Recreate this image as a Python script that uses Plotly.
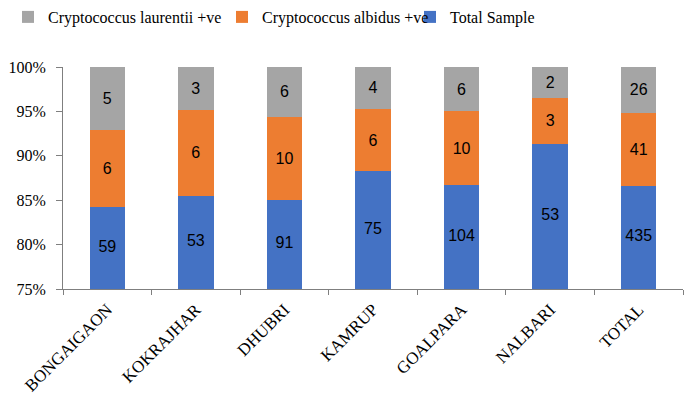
import plotly.graph_objects as go

districts = ["BONGAIGAON", "KOKRAJHAR", "DHUBRI", "KAMRUP", "GOALPARA", "NALBARI", "TOTAL"]
total_sample = [59, 53, 91, 75, 104, 53, 435]
albidus = [6, 6, 10, 6, 10, 3, 41]
laurentii = [5, 3, 6, 4, 6, 2, 26]

Y_MIN, Y_MAX = 75, 100
sums = [a + b + c for a, b, c in zip(total_sample, albidus, laurentii)]

def pct(vals):
    return [100 * v / s for v, s in zip(vals, sums)]

series = [
    ("Total Sample", total_sample, "#4472C4", "legend3"),
    ("Cryptococcus albidus +ve", albidus, "#ED7D31", "legend2"),
    ("Cryptococcus laurentii +ve", laurentii, "#A5A5A5", "legend"),
]

label_font = dict(family="Liberation Sans", size=16, color="black")

fig = go.Figure()
for name, vals, col, leg in series:
    is_base = name == "Total Sample"
    fig.add_trace(go.Bar(
        x=districts, y=pct(vals), name=name, marker_color=col, marker_line_width=0,
        text=None if is_base else vals,
        textposition="none" if is_base else "inside",
        insidetextanchor="middle", textfont=label_font,
        constraintext="none", hoverinfo="skip", showlegend=True, legend=leg,
    ))

# labels for the base segment, centred in its visible part
base_pct = pct(total_sample)
fig.add_trace(go.Scatter(
    x=districts, y=[(Y_MIN + p) / 2 for p in base_pct], mode="text",
    text=[str(v) for v in total_sample], textfont=label_font,
    showlegend=False, hoverinfo="skip",
))

W, H = 696, 398
leg_common = dict(orientation="h", xref="container", yref="container",
                  xanchor="left", yanchor="top", y=1.0,
                  font=dict(family="Liberation Serif", size=16, color="black"),
                  itemwidth=30, bgcolor="rgba(0,0,0,0)")

fig.update_layout(
    barmode="stack", bargap=0.6,
    width=W, height=H,
    margin=dict(l=63, r=13, t=67, b=109, autoexpand=False),
    plot_bgcolor="white", paper_bgcolor="white",
    font=dict(family="Liberation Serif", size=16, color="black"),
    legend=dict(leg_common, x=8 / W),
    legend2=dict(leg_common, x=222 / W),
    legend3=dict(leg_common, x=410 / W),
)
fig.update_yaxes(range=[Y_MIN, Y_MAX], dtick=5, ticksuffix="%", showgrid=False,
                 showline=True, linecolor="#7f7f7f", ticks="outside", ticklen=6,
                 tickcolor="#7f7f7f", tickfont=dict(size=16), automargin=False,
                 ticklabelstandoff=7)
fig.update_xaxes(showline=True, linecolor="#7f7f7f", ticks="outside", ticklen=5,
                 tickcolor="#7f7f7f", tickson="boundaries", tickangle=-45,
                 tickfont=dict(size=17), automargin=False, ticklabelstandoff=3)

fig.write_html("out.html", config={"displayModeBar": False},
               post_script="document.body.style.margin='0';")
